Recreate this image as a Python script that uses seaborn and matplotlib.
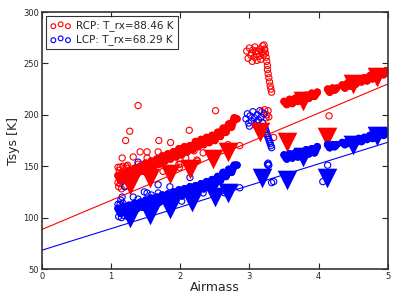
import numpy as np
import pandas as pd
import matplotlib
matplotlib.use('Agg')
import matplotlib.pyplot as plt
from matplotlib.collections import PathCollection
from matplotlib.legend_handler import HandlerPathCollection
import seaborn as sns

# fit results (receiver temperature + slope per airmass)
rcp_trx = 88.46
rcp_slope = 28.3
lcp_trx = 68.29
lcp_slope = 21.0

# RCP main track, airmass 1.1 - 2.8
rcp_a_am = [1.10, 1.14, 1.18, 1.22, 1.26, 1.30, 1.34, 1.38, 1.42, 1.46, 1.50, 1.54, 1.58, 1.62, 1.66,
            1.70, 1.74, 1.78, 1.82, 1.86, 1.90, 1.94, 1.98, 2.02, 2.06, 2.10, 2.14, 2.18, 2.22, 2.26,
            2.30, 2.34, 2.38, 2.42, 2.46, 2.50, 2.54, 2.58, 2.62, 2.66, 2.70, 2.74, 2.78, 2.82]
rcp_a_t = [141, 136, 143, 138, 146, 141, 148, 143, 150, 145, 153, 148, 155, 150, 157,
           152, 160, 155, 162, 157, 164, 159, 167, 161, 169, 164, 170, 166, 174, 169,
           176, 171, 178, 173, 180, 175, 183, 179, 187, 183, 191, 188, 197, 196]
# RCP jump around airmass 3.0 - 3.3
rcp_b_am = [2.96, 2.98, 3.00, 3.02, 3.03, 3.04, 3.05, 3.07, 3.08, 3.09, 3.10, 3.11, 3.12, 3.14, 3.15,
            3.16, 3.18, 3.19, 3.20, 3.21, 3.22, 3.22, 3.23, 3.24, 3.25, 3.26, 3.26, 3.27, 3.28, 3.29,
            3.30, 3.31, 3.32, 3.18, 3.22, 3.25, 3.27, 3.28, 3.24]
rcp_b_t = [262, 255, 265, 258, 260, 252, 263, 256, 266, 262, 259, 253, 262, 257, 264,
           254, 261, 267, 258, 268, 263, 264, 260, 256, 252, 248, 244, 240, 236, 232,
           228, 225, 222, 203, 205, 200, 204, 198, 197]
# RCP high airmass track (three pieces)
rcp_c_am = [3.50, 3.54, 3.58, 3.62, 3.66, 3.70, 3.74, 3.78, 3.82, 3.86, 3.90, 3.94, 3.98,
            4.13, 4.16, 4.20, 4.23, 4.26,
            4.34, 4.38, 4.42, 4.46, 4.50, 4.54, 4.58, 4.62, 4.66, 4.70, 4.74, 4.78, 4.82, 4.86,
            4.90, 4.94, 4.98]
rcp_c_t = [213, 210, 215, 211, 216, 213, 218, 215, 219, 216, 221, 218, 222,
           225, 222, 226, 224, 226,
           229, 226, 231, 228, 233, 230, 235, 232, 236, 233, 238, 235, 240, 237,
           242, 239, 243]
c_piece = [1] * 13 + [2] * 5 + [3] * 17
# RCP scattered points
rcp_s_am = [1.39, 1.27, 1.21, 1.69, 1.86, 2.13, 2.51, 4.15, 3.35, 2.86, 2.69, 1.16, 1.32, 1.52, 1.68,
            1.52, 2.24, 1.13, 1.22, 1.39, 2.33, 1.99, 1.75, 1.88, 2.08, 2.25, 1.10, 1.24, 1.42, 1.98,
            1.11, 1.13, 1.12, 1.15, 1.17, 1.20, 1.24, 1.28, 1.12, 1.16, 1.10, 1.14, 2.00, 2.20]
rcp_s_t = [209, 184, 175, 175, 173, 185, 204, 199, 178, 170, 171, 158, 159, 164, 164,
           158, 156, 149, 150, 152, 163, 149, 145, 162, 158, 155, 149, 151, 164, 152,
           130, 133, 146, 128, 150, 131, 148, 135, 140, 143, 134, 142, 152, 165]

# LCP main track
lcp_a_am = rcp_a_am
lcp_a_t = [109, 104, 111, 105, 112, 107, 114, 109, 115, 110, 117, 112, 119, 113, 120,
           115, 122, 117, 123, 118, 125, 120, 127, 121, 128, 123, 130, 125, 131, 126,
           133, 128, 135, 129, 137, 132, 140, 136, 144, 140, 147, 144, 151, 151]
lcp_b_am = [2.95, 2.97, 2.99, 3.01, 3.03, 3.05, 3.07, 3.09, 3.11, 3.13, 3.15, 3.17, 3.19, 3.21, 3.00,
            3.10, 3.22, 3.23, 3.24, 3.25, 3.26, 3.27, 3.28, 3.29, 3.30, 3.31, 3.32,
            3.26, 3.27, 3.28, 3.27]
lcp_b_t = [196, 201, 192, 199, 194, 203, 197, 190, 200, 195, 204, 198, 192, 201, 189,
           193, 188, 186, 184, 182, 180, 178, 176, 174, 172, 170, 168,
           152, 153, 151, 151]
lcp_c_am = rcp_c_am
lcp_c_t = [161, 157, 162, 158, 163, 159, 164, 160, 166, 162, 167, 163, 169,
           171, 168, 171, 169, 171,
           173, 171, 174, 172, 175, 173, 177, 174, 178, 176, 180, 177, 181, 179,
           183, 180, 184]
lcp_s_am = [1.39, 1.20, 1.26, 1.32, 1.16, 1.52, 1.68, 1.68, 1.85, 2.14, 1.10, 1.39, 1.52, 1.66, 1.85,
            2.02, 1.16, 1.24, 2.33, 2.64, 2.86, 3.32, 3.35, 4.06, 4.13, 1.30, 1.48, 1.58,
            1.11, 1.13, 1.15, 1.17, 1.12, 1.19, 1.24, 1.14]
lcp_s_t = [154, 130, 138, 120, 120, 124, 132, 124, 130, 139, 113, 118, 115, 113, 115,
           116, 106, 108, 124, 124, 129, 134, 135, 135, 151, 112, 125, 122,
           101, 113, 100, 114, 107, 102, 101, 117]

# averaged points (triangles)
rcp_tri_am = [1.27, 1.56, 1.85, 2.14, 2.47, 2.69, 3.15, 3.54, 3.77, 4.12, 4.49, 4.84]
rcp_tri_t = [132, 139, 142, 147, 157, 164, 183, 174, 213, 178, 230, 237]
lcp_tri_am = [1.27, 1.56, 1.85, 2.17, 2.50, 2.69, 3.18, 3.54, 3.77, 4.12, 4.50, 4.84]
lcp_tri_t = [100, 103, 108, 115, 120, 124, 139, 137, 159, 139, 171, 179]

rcp = pd.DataFrame({'am': rcp_a_am + rcp_b_am + rcp_c_am + rcp_s_am,
                    't': rcp_a_t + rcp_b_t + rcp_c_t + rcp_s_t})
lcp = pd.DataFrame({'am': lcp_a_am + lcp_b_am + lcp_c_am + lcp_s_am,
                    't': lcp_a_t + lcp_b_t + lcp_c_t + lcp_s_t})
# continuous scans (drawn as dense tracks)
rcp_tr = pd.DataFrame({'am': rcp_a_am + rcp_c_am, 't': rcp_a_t + rcp_c_t,
                       'seg': [0] * len(rcp_a_am) + c_piece})
lcp_tr = pd.DataFrame({'am': lcp_a_am + lcp_c_am, 't': lcp_a_t + lcp_c_t,
                       'seg': [0] * len(lcp_a_am) + c_piece})

sns.set_style('white')
plt.rcParams['font.family'] = ['DejaVu Sans']

fig = plt.figure(figsize=(3.99, 2.99), dpi=100)
ax = fig.add_axes([0.105, 0.1003, 0.867, 0.8595])

sns.lineplot(data=rcp_tr, x='am', y='t', units='seg', estimator=None, sort=False, ax=ax,
             color='red', linewidth=5.5, legend=False, solid_capstyle='round')
sns.lineplot(data=lcp_tr, x='am', y='t', units='seg', estimator=None, sort=False, ax=ax,
             color='blue', linewidth=5.5, legend=False, solid_capstyle='round')

sns.scatterplot(data=rcp, x='am', y='t', ax=ax, marker='o', s=20, facecolor='none',
                edgecolor='red', linewidth=0.8)
h_rcp = ax.collections[-1]
sns.scatterplot(data=lcp, x='am', y='t', ax=ax, marker='o', s=20, facecolor='none',
                edgecolor='blue', linewidth=0.8)
h_lcp = ax.collections[-1]

xfit = np.array([0, 5])
sns.lineplot(x=xfit, y=rcp_trx + rcp_slope * xfit, ax=ax, color='red', linewidth=0.8)
sns.lineplot(x=xfit, y=lcp_trx + lcp_slope * xfit, ax=ax, color='blue', linewidth=0.8)

sns.scatterplot(x=rcp_tri_am, y=rcp_tri_t, ax=ax, marker='v', s=200, color='red', linewidth=0)
sns.scatterplot(x=lcp_tri_am, y=lcp_tri_t, ax=ax, marker='v', s=200, color='blue', linewidth=0)

ax.set_xlim(0, 5)
ax.set_ylim(50, 300)
ax.set_xticks([0, 1, 2, 3, 4, 5])
ax.set_yticks([50, 100, 150, 200, 250, 300])
ax.tick_params(direction='in', length=4, width=0.8, labelsize=6, top=True, right=True,
               bottom=True, left=True, pad=2)
for sp in ax.spines.values():
    sp.set_color('#333333')
    sp.set_linewidth(1.2)
ax.set_xlabel('Airmass', fontsize=9, labelpad=0)
ax.set_ylabel('Tsys [K]', fontsize=9, labelpad=2)

leg = ax.legend([h_rcp, h_lcp], ['RCP: T_rx=88.46 K', 'LCP: T_rx=68.29 K'], loc='upper left',
                scatterpoints=3, fontsize=7.5, frameon=True, fancybox=False, edgecolor='black',
                handletextpad=0.5, borderaxespad=0.4, handlelength=2.0, borderpad=0.4,
                labelspacing=0.3,
                handler_map={PathCollection: HandlerPathCollection(sizes=[12, 12, 12],
                                                                   yoffsets=[0.3, 0.55, 0.3])})
leg.get_frame().set_linewidth(0.8)

plt.savefig('out.png', dpi=100)
